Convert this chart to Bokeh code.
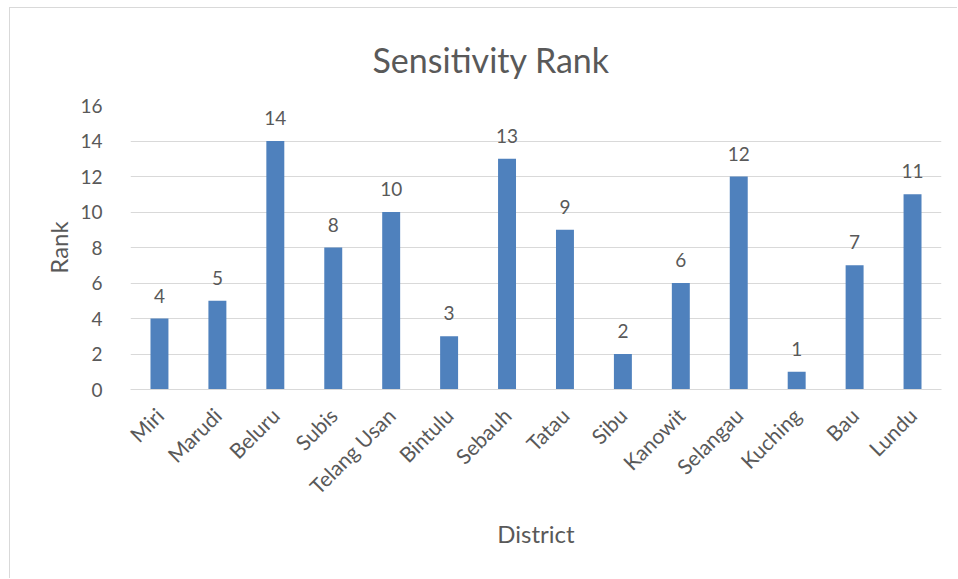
from bokeh.plotting import figure
from bokeh.models import ColumnDataSource, FactorRange, Range1d, SingleIntervalTicker
from bokeh.core.properties import value
from bokeh.embed import file_html
from bokeh.resources import INLINE
import math

# District sensitivity ranks
districts = ["Miri", "Marudi", "Beluru", "Subis", "Telang Usan", "Bintulu", "Sebauh",
             "Tatau", "Sibu", "Kanowit", "Selangau", "Kuching", "Bau", "Lundu"]
ranks = [4, 5, 14, 8, 10, 3, 13, 9, 2, 6, 12, 1, 7, 11]

FONT = "Lato"
TEXT = "#595959"
BAR = "#4F81BD"
GRID = "#D9D9D9"

source = ColumnDataSource(data=dict(
    district=districts,
    rank=ranks,
    label=[str(r) for r in ranks],
))

p = figure(
    width=948, height=571,
    x_range=FactorRange(*districts, range_padding=0.0),
    y_range=Range1d(0, 16),
    output_backend="svg", toolbar_location=None,
    min_border_left=120, min_border_right=17,
    min_border_top=97, min_border_bottom=190,
)
p.styles = {
    "margin-left": "9px", "margin-top": "7px",
    "border-left": "1px solid #D9D9D9", "border-top": "1px solid #D9D9D9",
}
p.outline_line_color = None
p.background_fill_color = "white"
p.border_fill_color = "white"

# chart title
p.title.text = "Sensitivity Rank"
p.title.align = "left"
p.title.offset = 242
p.title.standoff = 52
p.title.text_font = FONT
p.title.text_font_size = "34px"
p.title.text_font_style = "normal"
p.title.text_color = TEXT

p.vbar(x="district", top="rank", width=0.31, source=source,
       fill_color=BAR, line_color=None)

# value labels above each bar
p.text(x="district", y="rank", text="label", source=source,
       text_align="center", text_baseline="bottom", y_offset=-16,
       text_font=value(FONT), text_font_size="19px", text_color=TEXT)

# axes
p.yaxis.ticker = SingleIntervalTicker(interval=2)
p.yaxis.axis_line_color = None
p.yaxis.major_tick_line_color = None
p.yaxis.minor_tick_line_color = None
p.yaxis.major_label_standoff = 22
p.yaxis.major_label_text_font = FONT
p.yaxis.major_label_text_font_size = "19px"
p.yaxis.major_label_text_color = TEXT
p.yaxis.axis_label = "Rank"
p.yaxis.axis_label_text_font = FONT
p.yaxis.axis_label_text_font_size = "24px"
p.yaxis.axis_label_text_font_style = "normal"
p.yaxis.axis_label_text_color = TEXT
p.yaxis.axis_label_standoff = 4

p.xaxis.axis_line_color = GRID
p.xaxis.major_tick_line_color = None
p.xaxis.minor_tick_line_color = None
p.xaxis.major_label_orientation = math.pi / 4
p.xaxis.major_label_standoff = 16
p.xaxis.major_label_text_font = FONT
p.xaxis.major_label_text_font_size = "21px"
p.xaxis.major_label_text_color = TEXT
p.xaxis.axis_label = "District"
p.xaxis.axis_label_text_font = FONT
p.xaxis.axis_label_text_font_size = "24px"
p.xaxis.axis_label_text_font_style = "normal"
p.xaxis.axis_label_text_color = TEXT
p.xaxis.axis_label_standoff = 9

p.xgrid.grid_line_color = None
p.ygrid.grid_line_color = GRID
p.ygrid.grid_line_width = 1

open("out.html", "w").write(file_html(p, INLINE))
